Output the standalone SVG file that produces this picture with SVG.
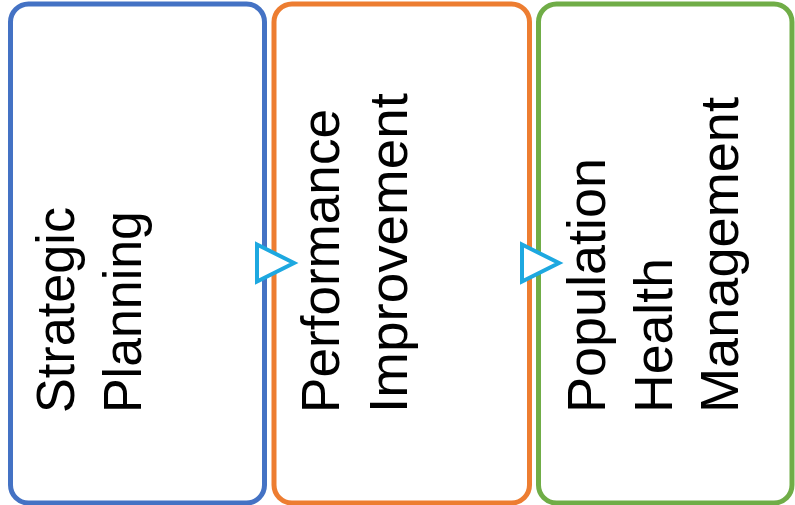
<svg xmlns="http://www.w3.org/2000/svg" width="795" height="505" viewBox="0 0 795 505">
<style>
.box{fill:#fff;stroke-width:5}
.t{font-family:"Liberation Sans",Arial,sans-serif;font-size:54px;fill:#000}
.arr{fill:#fff;stroke:#1DA8E0;stroke-width:4;stroke-linejoin:miter}
</style>
<rect width="795" height="505" fill="#fff"/>
<g id="node-strategic">
<rect class="box" x="10.5" y="4" width="254" height="499" rx="18" stroke="#4472C4"/>
<text class="t" transform="translate(74,413) rotate(-90)" textLength="206" lengthAdjust="spacingAndGlyphs">Strategic</text>
<text class="t" transform="translate(141,413) rotate(-90)" textLength="202" lengthAdjust="spacingAndGlyphs">Planning</text>
</g>
<g id="node-performance">
<rect class="box" x="274" y="4" width="255.5" height="499" rx="18" stroke="#ED7D31"/>
<text class="t" transform="translate(339,413) rotate(-90)" textLength="304" lengthAdjust="spacingAndGlyphs">Performance</text>
<text class="t" transform="translate(407,413) rotate(-90)" textLength="320" lengthAdjust="spacingAndGlyphs">Improvement</text>
</g>
<g id="node-population">
<rect class="box" x="538.5" y="4" width="253.5" height="499" rx="18" stroke="#70AD47"/>
<text class="t" transform="translate(605,413) rotate(-90)" textLength="255" lengthAdjust="spacingAndGlyphs">Population</text>
<text class="t" transform="translate(672,413) rotate(-90)" textLength="155" lengthAdjust="spacingAndGlyphs">Health</text>
<text class="t" transform="translate(738,413) rotate(-90)" textLength="316" lengthAdjust="spacingAndGlyphs">Management</text>
</g>
<g id="connectors">
<polygon class="arr" points="257,244.5 294,263 257,281.5"/>
<polygon class="arr" points="522,244.5 559,263 522,281.5"/>
</g>
</svg>
